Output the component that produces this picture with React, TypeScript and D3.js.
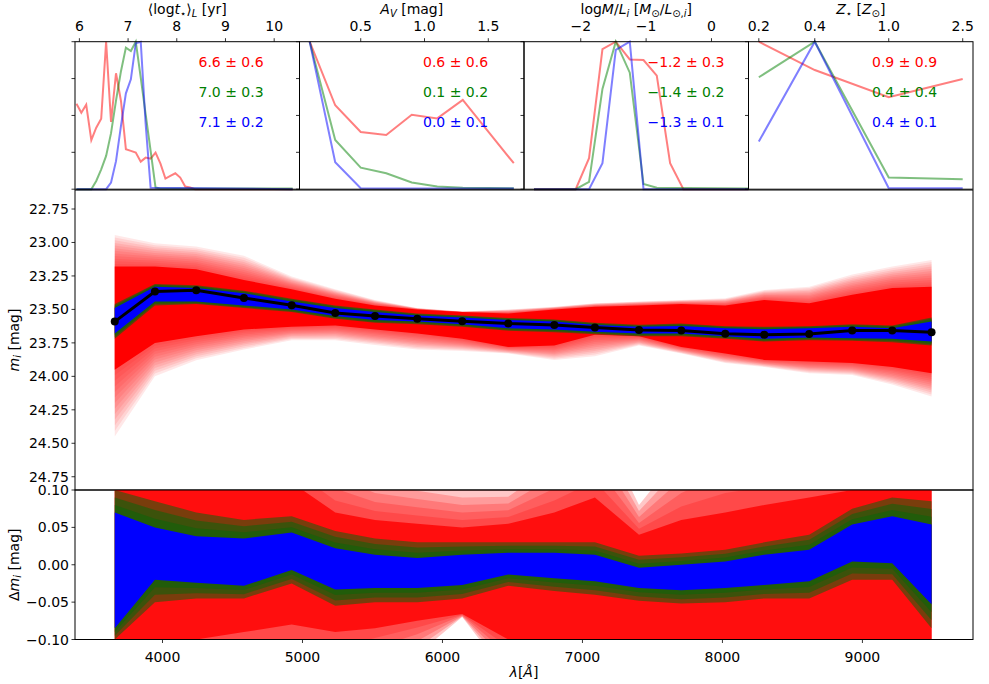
import React from 'react';
import * as d3 from 'd3';

// ---------------- data ----------------
const wavelengths = [3659, 3946, 4241, 4582, 4923, 5234, 5518, 5820, 6141, 6470, 6799, 7089, 7404, 7706, 8020, 8299, 8620, 8927, 9213, 9494];
const magObserved = [23.591, 23.367, 23.357, 23.414, 23.469, 23.526, 23.549, 23.569, 23.588, 23.606, 23.616, 23.636, 23.653, 23.658, 23.681, 23.690, 23.683, 23.658, 23.658, 23.670];

// model magnitudes envelopes (red = all, green = good, blue = best)
const redMainFaintTop = [22.944, 23.006, 23.03, 23.10, 23.255, 23.35, 23.43, 23.49, 23.516, 23.50, 23.48, 23.454, 23.44, 23.43, 23.417, 23.355, 23.33, 23.24, 23.18, 23.13];
const redMainCoreTop = [23.18, 23.18, 23.20, 23.28, 23.35, 23.42, 23.47, 23.50, 23.52, 23.53, 23.50, 23.48, 23.47, 23.46, 23.47, 23.43, 23.454, 23.39, 23.34, 23.33];
const redMainCoreBot = [23.95, 23.75, 23.70, 23.65, 23.63, 23.62, 23.65, 23.68, 23.72, 23.78, 23.77, 23.69, 23.70, 23.78, 23.83, 23.877, 23.89, 23.90, 23.93, 23.976];
const redMainFaintBot = [24.45, 24.0, 23.88, 23.80, 23.73, 23.73, 23.765, 23.80, 23.81, 23.83, 23.877, 23.85, 23.77, 23.83, 23.90, 23.93, 23.976, 23.99, 24.06, 24.15];
const greenMainTop = [23.46, 23.31, 23.32, 23.36, 23.42, 23.47, 23.50, 23.53, 23.545, 23.565, 23.575, 23.60, 23.615, 23.605, 23.625, 23.63, 23.625, 23.61, 23.62, 23.56];
const greenMainBot = [23.72, 23.47, 23.46, 23.49, 23.52, 23.57, 23.60, 23.61, 23.63, 23.66, 23.67, 23.685, 23.70, 23.70, 23.72, 23.74, 23.73, 23.735, 23.745, 23.77];
const blueMainTop = [23.49, 23.33, 23.34, 23.38, 23.44, 23.49, 23.52, 23.546, 23.56, 23.58, 23.59, 23.616, 23.63, 23.623, 23.64, 23.648, 23.64, 23.63, 23.64, 23.59];
const blueMainBot = [23.68, 23.44, 23.44, 23.47, 23.50, 23.55, 23.58, 23.59, 23.61, 23.64, 23.65, 23.666, 23.68, 23.68, 23.70, 23.72, 23.71, 23.715, 23.72, 23.74];

// residual envelopes
const redResFaintTop = [0.2, 0.2, 0.2, 0.2, 0.2, 0.15, 0.12, 0.11, 0.1, 0.1, 0.15, 0.2, 0.08, 0.15, 0.2, 0.2, 0.2, 0.2, 0.2, 0.2];
const redResCoreTop = [0.15, 0.12, 0.11, 0.1, 0.11, 0.07, 0.06, 0.055, 0.05, 0.055, 0.07, 0.09, 0.04, 0.06, 0.07, 0.08, 0.09, 0.1, 0.12, 0.14];
const redResCoreBot = [-0.15, -0.13, -0.1, -0.09, -0.08, -0.09, -0.085, -0.075, -0.066, -0.1, -0.11, -0.11, -0.11, -0.11, -0.11, -0.11, -0.11, -0.11, -0.11, -0.15];
const redResFaintBot = [-0.2, -0.2, -0.2, -0.2, -0.2, -0.2, -0.15, -0.12, -0.07, -0.15, -0.2, -0.2, -0.2, -0.2, -0.2, -0.2, -0.2, -0.2, -0.2, -0.2];
const greenResTop = [0.1, 0.085, 0.07, 0.06, 0.065, 0.045, 0.035, 0.03, 0.03, 0.03, 0.03, 0.03, 0.012, 0.015, 0.02, 0.03, 0.04, 0.075, 0.09, 0.085];
const greenResBot = [-0.1, -0.05, -0.045, -0.045, -0.025, -0.055, -0.05, -0.05, -0.045, -0.028, -0.035, -0.04, -0.048, -0.052, -0.05, -0.045, -0.045, -0.02, -0.02, -0.085];
const blueResTop = [0.07, 0.05, 0.038, 0.035, 0.043, 0.022, 0.0135, 0.009, 0.0135, 0.016, 0.016, 0.0135, -0.004, 0.0, 0.0045, 0.0135, 0.02, 0.054, 0.065, 0.054];
const blueResBot = [-0.085, -0.02, -0.024, -0.028, -0.007, -0.033, -0.031, -0.031, -0.027, -0.013, -0.018, -0.022, -0.031, -0.034, -0.031, -0.027, -0.022, 0.0045, 0.002, -0.053];

// top panel 1: luminosity-weighted age
const ageRedX = [5.94, 6.04, 6.14, 6.245, 6.346, 6.448, 6.549, 6.65, 6.752, 6.854, 6.955, 7.057, 7.158, 7.26, 7.361, 7.463, 7.564, 7.665, 7.767, 7.868, 7.97, 8.071, 8.173, 8.274, 8.376, 10.38];
const ageRedY = [0.58, 0.519, 0.573, 0.332, 0.417, 0.478, 1.0, 0.456, 0.786, 0.598, 0.271, 0.26, 0.248, 0.187, 0.214, 0.207, 0.248, 0.173, 0.072, 0.09, 0.108, 0.079, 0.018, 0.011, 0, 0];
const ageGreenX = [5.94, 6.245, 6.346, 6.448, 6.549, 6.65, 6.752, 6.854, 6.955, 7.057, 7.158, 7.26, 7.361, 7.463, 7.564, 7.665, 10.38];
const ageGreenY = [0, 0, 0.056, 0.135, 0.226, 0.38, 0.6, 0.8, 0.96, 0.937, 1.0, 0.756, 0.508, 0.26, 0.011, 0.005, 0.005];
const ageBlueX = [5.94, 6.549, 6.65, 6.752, 6.854, 6.955, 7.057, 7.158, 7.26, 7.361, 7.463, 10.38];
const ageBlueY = [0, 0, 0.045, 0.19, 0.43, 0.65, 0.745, 0.99, 1.0, 0.44, 0.01, 0];
// top panel 2: A_V
const avX = [0.1, 0.3, 0.5, 0.7, 0.9, 1.1, 1.3, 1.5, 1.7];
const avRed = [1.0, 0.569, 0.388, 0.368, 0.505, 0.48, 0.605, 0.39, 0.176];
const avGreen = [1.0, 0.334, 0.146, 0.108, 0.045, 0.018, 0.01, 0.008, 0.006];
const avBlue = [1.0, 0.183, 0.007, 0.005, 0.005, 0.005, 0.005, 0.005, 0.005];
// top panel 3: log M/L
const mlRedX = [-2.715, -2.077, -1.873, -1.668, -1.464, -1.25, -1.04, -0.837, -0.633, -0.43, 0.566];
const mlRedY = [0, 0, 0.21, 0.95, 1.0, 0.88, 0.876, 0.77, 0.176, 0, 0];
const mlGreenX = [-2.715, -2.077, -1.873, -1.668, -1.464, -1.25, -1.04, -0.837, 0.566];
const mlGreenY = [0, 0, 0.05, 0.68, 1.0, 0.79, 0.035, 0.01, 0.005];
const mlBlueX = [-2.715, -1.873, -1.668, -1.464, -1.25, -1.04, 0.566];
const mlBlueY = [0, 0, 0.176, 0.944, 1.0, 0, 0];
// top panel 4: metallicity
const zX = [0.2, 0.4, 1.0, 2.5];
const zRed = [1.0, 0.808, 0.623, 0.747];
const zGreen = [0.759, 1.0, 0.079, 0.068];
const zBlue = [0.323, 1.0, 0.007, 0.007];

const statRed = ['6.6 ± 0.6', '0.6 ± 0.6', '−1.2 ± 0.3', '0.9 ± 0.9'];
const statGreen = ['7.0 ± 0.3', '0.1 ± 0.2', '−1.4 ± 0.2', '0.4 ± 0.4'];
const statBlue = ['7.1 ± 0.2', '0.0 ± 0.1', '−1.3 ± 0.1', '0.4 ± 0.1'];

const magTicks = [22.75, 23.0, 23.25, 23.5, 23.75, 24.0, 24.25, 24.5, 24.75];
const resTicks = [0.1, 0.05, 0.0, -0.05, -0.1];
const lamTicks = [4000, 5000, 6000, 7000, 8000, 9000];
const ageTicks = [6, 7, 8, 9, 10];
const avTicks = [0.5, 1.0, 1.5];
const mlTicks = [-2, -1, 0];
const zTicks = [0.2, 0.4, 1.0, 2.5];

// ---------------- layout ----------------
const FONT = 'DejaVu Sans, sans-serif';
const FS = 14;
const L = 75, R = 973;
const TOP0 = 41.7, TOP1 = 189.2;
const MAIN0 = 190, MAIN1 = 490;
const RES0 = 490, RES1 = 639.5;
const panelX = [75, 299.5, 524, 748.5, 973];

const RED = '#ff0000', GREEN = '#008000', BLUE = '#0000ff', DKGREEN = '#0b650b';
const fmtMinus = (s: string) => s.replace('-', '−');

function bandPath(xs: number[], lo: number[], hi: number[], x: any, y: any) {
  const a = d3.area<number>()
    .x((i) => x(xs[i]))
    .y0((i) => y(lo[i]))
    .y1((i) => y(hi[i]));
  return a(d3.range(xs.length)) as string;
}

function fadeLayers(key: string, xs: number[], coreLo: number[], coreHi: number[], outLo: number[], outHi: number[], K: number, color: string, op: number, x: any, y: any) {
  const out: any[] = [];
  for (let k = K; k >= 1; k--) {
    const f = k / K;
    const lo = coreLo.map((v, i) => v + (outLo[i] - v) * f);
    const hi = coreHi.map((v, i) => v + (outHi[i] - v) * f);
    out.push(<path key={key + k} d={bandPath(xs, lo, hi, x, y)} fill={color} opacity={op} />);
  }
  return out;
}

export default function App() {
  const x = d3.scaleLinear().domain([3375, 9790]).range([L, R]);
  const yM = d3.scaleLinear().domain([22.608, 24.849]).range([MAIN0, MAIN1]);
  const yR = d3.scaleLinear().domain([-0.1, 0.1]).range([RES1, RES0]);
  const yT = d3.scaleLinear().domain([0, 1]).range([TOP1, TOP0]);

  const tops = [
    { sc: d3.scaleLinear().domain([5.91, 10.52]).range([panelX[0], panelX[1]]), ticks: ageTicks, fmt: (v: number) => String(v),
      series: [[ageRedX, ageRedY, RED], [ageGreenX, ageGreenY, GREEN], [ageBlueX, ageBlueY, BLUE]] },
    { sc: d3.scaleLinear().domain([0.02, 1.78]).range([panelX[1], panelX[2]]), ticks: avTicks, fmt: (v: number) => v.toFixed(1),
      series: [[avX, avRed, RED], [avX, avGreen, GREEN], [avX, avBlue, BLUE]] },
    { sc: d3.scaleLinear().domain([-2.868, 0.566]).range([panelX[2], panelX[3]]), ticks: mlTicks, fmt: (v: number) => fmtMinus(String(v)),
      series: [[mlRedX, mlRedY, RED], [mlGreenX, mlGreenY, GREEN], [mlBlueX, mlBlueY, BLUE]] },
    { sc: d3.scaleLog().domain([0.176, 2.84]).range([panelX[3], panelX[4]]), ticks: zTicks, fmt: (v: number) => v.toFixed(1),
      series: [[zX, zRed, RED], [zX, zGreen, GREEN], [zX, zBlue, BLUE]] },
  ];

  const topLabels = [
    <>⟨log<tspan fontStyle="italic">t</tspan><tspan fontSize={10} dy={2.5}>⋆</tspan><tspan dy={-2.5}>⟩</tspan><tspan fontStyle="italic" fontSize={10} dy={2.5}>L</tspan><tspan dy={-2.5}> [yr]</tspan></>,
    <><tspan fontStyle="italic">A</tspan><tspan fontStyle="italic" fontSize={10} dy={2.5}>V</tspan><tspan dy={-2.5}> [mag]</tspan></>,
    <>log<tspan fontStyle="italic">M</tspan>/<tspan fontStyle="italic">L</tspan><tspan fontStyle="italic" fontSize={10} dy={2.5}>i</tspan><tspan dy={-2.5}> [</tspan><tspan fontStyle="italic">M</tspan><tspan fontSize={10} dy={2.5}>⊙</tspan><tspan dy={-2.5}>/</tspan><tspan fontStyle="italic">L</tspan><tspan fontSize={10} dy={2.5}>⊙,<tspan fontStyle="italic">i</tspan></tspan><tspan dy={-2.5}>]</tspan></>,
    <><tspan fontStyle="italic">Z</tspan><tspan fontSize={10} dy={2.5}>⋆</tspan><tspan dy={-2.5}> [</tspan><tspan fontStyle="italic">Z</tspan><tspan fontSize={10} dy={2.5}>⊙</tspan><tspan dy={-2.5}>]</tspan></>,
  ];

  const blackLine = d3.line<number>().x((i) => x(wavelengths[i])).y((i) => yM(magObserved[i]))(d3.range(wavelengths.length)) as string;

  return (
    <svg width={989} height={684} style={{ position: 'absolute', left: 0, top: 0, background: '#fff' }} fontFamily={FONT}>
      <defs>
        <clipPath id="clipMain"><rect x={L} y={MAIN0} width={R - L} height={MAIN1 - MAIN0} /></clipPath>
        <clipPath id="clipRes"><rect x={L} y={RES0} width={R - L} height={RES1 - RES0} /></clipPath>
      </defs>
      <rect x={0} y={0} width={989} height={684} fill="#fff" />

      {/* ---------- top panels ---------- */}
      {tops.map((p, pi) => {
        const cx = (panelX[pi] + panelX[pi + 1]) / 2;
        const tx = panelX[pi] + 0.55 * (panelX[pi + 1] - panelX[pi]);
        return (
          <g key={'top' + pi}>
            {p.series.map((s: any, si) => {
              const xs = s[0] as number[], ys = s[1] as number[];
              const d = d3.line<number>().x((i) => p.sc(xs[i])).y((i) => yT(ys[i]))(d3.range(xs.length)) as string;
              return <path key={si} d={d} fill="none" stroke={s[2]} strokeOpacity={0.5} strokeWidth={2} />;
            })}
            <rect x={panelX[pi]} y={TOP0} width={panelX[pi + 1] - panelX[pi]} height={TOP1 - TOP0} fill="none" stroke="#000" strokeWidth={1} />
            {[0, 0.25, 0.5, 0.75, 1].map((t) => (
              <line key={'yt' + t} x1={panelX[pi] - 3.5} x2={panelX[pi]} y1={yT(t)} y2={yT(t)} stroke="#000" strokeWidth={0.8} />
            ))}
            {p.ticks.map((t) => (
              <g key={'xt' + t}>
                <line x1={p.sc(t)} x2={p.sc(t)} y1={TOP0} y2={TOP0 - 3.5} stroke="#000" strokeWidth={0.8} />
                <text x={p.sc(t)} y={31} textAnchor="middle" fontSize={FS}>{p.fmt(t)}</text>
              </g>
            ))}
            <text x={cx} y={14} textAnchor="middle" fontSize={FS}>{topLabels[pi]}</text>
            <text x={tx} y={61.7} dominantBaseline="central" fontSize={FS} fill={RED}>{statRed[pi]}</text>
            <text x={tx} y={91.7} dominantBaseline="central" fontSize={FS} fill={GREEN}>{statGreen[pi]}</text>
            <text x={tx} y={121.7} dominantBaseline="central" fontSize={FS} fill={BLUE}>{statBlue[pi]}</text>
          </g>
        );
      })}

      {/* ---------- main panel ---------- */}
      <g clipPath="url(#clipMain)">
        {fadeLayers('rm', wavelengths, redMainCoreBot, redMainCoreTop, redMainFaintBot, redMainFaintTop, 12, RED, 0.09, x, yM)}
        <path d={bandPath(wavelengths, redMainCoreBot, redMainCoreTop, x, yM)} fill={RED} />
        {fadeLayers('gm', wavelengths, blueMainBot, blueMainTop, greenMainBot, greenMainTop, 3, DKGREEN, 0.6, x, yM)}
        <path d={bandPath(wavelengths, blueMainBot, blueMainTop, x, yM)} fill={BLUE} />
        <path d={blackLine} fill="none" stroke="#000" strokeWidth={3} />
        {wavelengths.map((w, i) => (
          <circle key={w} cx={x(w)} cy={yM(magObserved[i])} r={4} fill="#000" />
        ))}
      </g>
      <rect x={L} y={MAIN0} width={R - L} height={MAIN1 - MAIN0} fill="none" stroke="#000" strokeWidth={1} />
      {magTicks.map((t) => (
        <g key={'mt' + t}>
          <line x1={L - 3.5} x2={L} y1={yM(t)} y2={yM(t)} stroke="#000" strokeWidth={0.8} />
          <text x={L - 6} y={yM(t)} textAnchor="end" dominantBaseline="central" fontSize={FS}>{t.toFixed(2)}</text>
        </g>
      ))}
      <text transform={`translate(14,${(MAIN0 + MAIN1) / 2}) rotate(-90)`} textAnchor="middle" dominantBaseline="central" fontSize={FS}>
        <tspan fontStyle="italic">m</tspan><tspan fontStyle="italic" fontSize={10} dy={3}>i</tspan><tspan dy={-3}> [mag]</tspan>
      </text>

      {/* ---------- residual panel ---------- */}
      <g clipPath="url(#clipRes)">
        {fadeLayers('rr', wavelengths, redResCoreBot, redResCoreTop, redResFaintBot, redResFaintTop, 5, RED, 0.22, x, yR)}
        <path d={bandPath(wavelengths, redResCoreBot, redResCoreTop, x, yR)} fill={RED} opacity={0.8} />
        {fadeLayers('gr', wavelengths, blueResBot, blueResTop, greenResBot, greenResTop, 3, DKGREEN, 0.55, x, yR)}
        <path d={bandPath(wavelengths, blueResBot, blueResTop, x, yR)} fill={BLUE} />
      </g>
      <rect x={L} y={RES0} width={R - L} height={RES1 - RES0} fill="none" stroke="#000" strokeWidth={1} />
      {resTicks.map((t) => (
        <g key={'rt' + t}>
          <line x1={L - 3.5} x2={L} y1={yR(t)} y2={yR(t)} stroke="#000" strokeWidth={0.8} />
          <text x={L - 6} y={yR(t)} textAnchor="end" dominantBaseline="central" fontSize={FS}>{fmtMinus(t.toFixed(2))}</text>
        </g>
      ))}
      {lamTicks.map((t) => (
        <g key={'lt' + t}>
          <line x1={x(t)} x2={x(t)} y1={RES1} y2={RES1 + 3.5} stroke="#000" strokeWidth={0.8} />
          <text x={x(t)} y={657} textAnchor="middle" dominantBaseline="central" fontSize={FS}>{t}</text>
        </g>
      ))}
      <text x={(L + R) / 2} y={672} textAnchor="middle" dominantBaseline="central" fontSize={FS}>
        <tspan fontStyle="italic">λ</tspan>[<tspan fontStyle="italic">Å</tspan>]
      </text>
      <text transform={`translate(14,${(RES0 + RES1) / 2}) rotate(-90)`} textAnchor="middle" dominantBaseline="central" fontSize={FS}>
        Δ<tspan fontStyle="italic">m</tspan><tspan fontStyle="italic" fontSize={10} dy={3}>i</tspan><tspan dy={-3}> [mag]</tspan>
      </text>
    </svg>
  );
}
